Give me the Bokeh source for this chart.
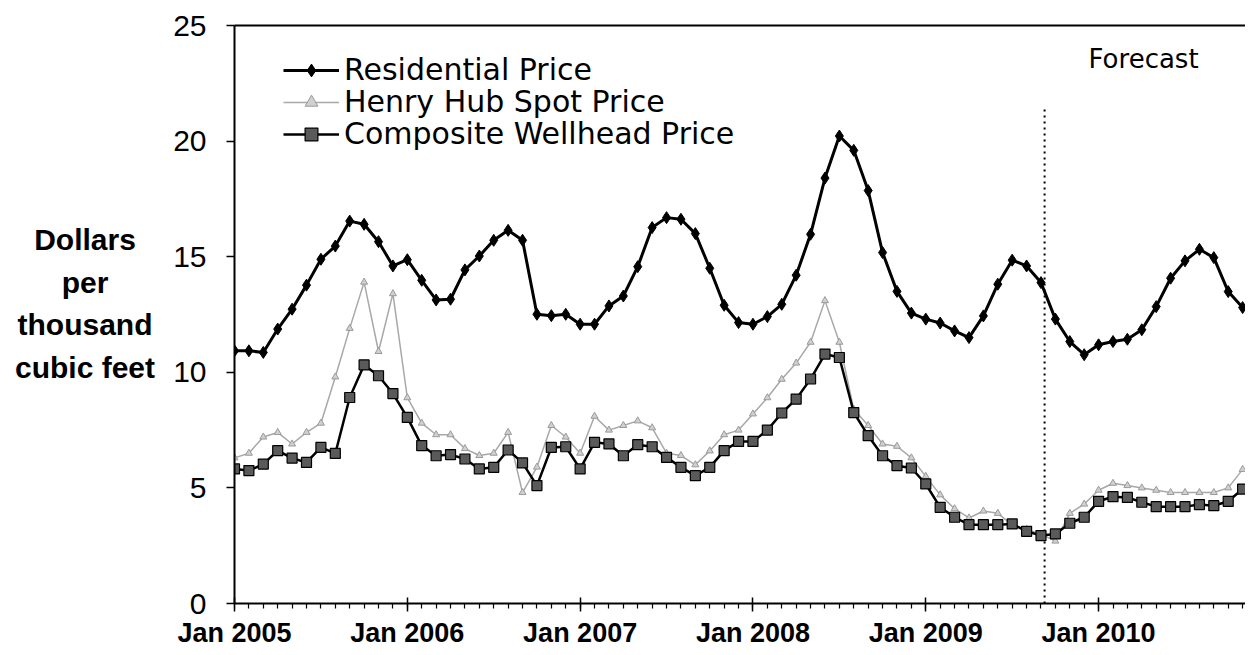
from bokeh.plotting import figure
from bokeh.models import (ColumnDataSource, Legend, LegendItem, FixedTicker,
                          LinearAxis, Label, Range1d, Div)
from bokeh.layouts import row
from bokeh.embed import file_html
from bokeh.resources import INLINE

# ---- data (month index 0 = Jan 2005) ----
months = list(range(71))
year_ticks = [0, 12, 24, 36, 48, 60]
year_labels = ["Jan 2005", "Jan 2006", "Jan 2007", "Jan 2008", "Jan 2009", "Jan 2010"]

residential = [10.93, 10.93, 10.86, 11.87, 12.73, 13.77, 14.89, 15.46, 16.54, 16.40, 15.65, 14.60,
               14.87, 13.98, 13.13, 13.16, 14.43, 15.03, 15.71, 16.14, 15.71, 12.51, 12.45, 12.51,
               12.08, 12.08, 12.87, 13.30, 14.57, 16.26, 16.69, 16.62, 16.00, 14.50, 12.90, 12.15,
               12.08, 12.41, 12.94, 14.20, 15.97, 18.40, 20.22, 19.60, 17.86, 15.18, 13.50, 12.56,
               12.30, 12.13, 11.79, 11.50, 12.44, 13.81, 14.85, 14.60, 13.88, 12.30, 11.33, 10.76,
               11.19, 11.33, 11.43, 11.84, 12.84, 14.07, 14.82, 15.32, 14.96, 13.49, 12.80]

henry_hub = [6.3, 6.5, 7.2, 7.4, 6.9, 7.4, 7.8, 9.8, 11.9, 13.9, 10.9, 13.4,
             8.9, 7.8, 7.3, 7.3, 6.7, 6.4, 6.5, 7.4, 4.8, 5.9, 7.7, 7.2,
             6.5, 8.1, 7.5, 7.7, 7.9, 7.6, 6.5, 6.4, 6.0, 6.6, 7.3, 7.5,
             8.2, 8.9, 9.7, 10.4, 11.3, 13.1, 11.3, 8.4, 7.7, 6.9, 6.8, 6.3,
             5.5, 4.7, 4.1, 3.7, 4.0, 3.9, 3.4, 3.2, 3.0, 2.7, 3.9, 4.3,
             4.9, 5.2, 5.1, 5.0, 4.9, 4.8, 4.8, 4.8, 4.8, 5.0, 5.8]

wellhead = [5.82, 5.75, 6.03, 6.61, 6.29, 6.10, 6.75, 6.49, 8.91, 10.32, 9.85, 9.08,
            8.05, 6.83, 6.39, 6.44, 6.25, 5.82, 5.89, 6.64, 6.08, 5.10, 6.75, 6.78,
            5.82, 6.97, 6.90, 6.39, 6.87, 6.78, 6.32, 5.89, 5.53, 5.89, 6.61, 7.01,
            7.01, 7.50, 8.24, 8.84, 9.71, 10.79, 10.64, 8.26, 7.26, 6.39, 5.96, 5.86,
            5.17, 4.16, 3.73, 3.41, 3.41, 3.41, 3.44, 3.12, 2.94, 3.01, 3.47, 3.73,
            4.42, 4.62, 4.59, 4.38, 4.19, 4.19, 4.19, 4.28, 4.23, 4.42, 4.95]

series_names = ["Residential Price", "Henry Hub Spot Price", "Composite Wellhead Price"]
ylabel_lines = ["Dollars", "per", "thousand", "cubic feet"]

forecast_start = 56.25
forecast_line_top = 21.5

src = ColumnDataSource(dict(m=months, res=residential, hh=henry_hub, wh=wellhead))

p = figure(width=1075, height=650, output_backend="svg", toolbar_location=None,
           x_range=Range1d(0, 70.2), y_range=Range1d(0, 25),
           min_border_left=63, min_border_right=0, min_border_top=25, min_border_bottom=47)
p.xgrid.visible = False
p.ygrid.visible = False
p.outline_line_color = None
p.background_fill_color = "white"
p.border_fill_color = "white"

# forecast divider
p.segment(x0=[forecast_start], y0=[0], x1=[forecast_start], y1=[forecast_line_top],
          line_color="black", line_width=2, line_dash="2 4")

# Henry Hub
hh_line = p.line("m", "hh", source=src, line_color="#a8a8a8", line_width=1.5)
hh_pts = p.scatter("m", "hh", source=src, marker="triangle", size=7,
                   fill_color="#d0d0d0", line_color="#9a9a9a", line_width=1)

# Composite wellhead
wh_line = p.line("m", "wh", source=src, line_color="black", line_width=2.5)
wh_pts = p.scatter("m", "wh", source=src, marker="square", size=10,
                   fill_color="#5a5a5a", line_color="black", line_width=1.2)

# Residential
res_line = p.line("m", "res", source=src, line_color="black", line_width=3)
res_pts = p.scatter("m", "res", source=src, marker="diamond", size=12,
                    fill_color="black", line_color="black")

# axes
yax = p.yaxis[0]
yax.ticker = FixedTicker(ticks=[0, 5, 10, 15, 20, 25])
yax.major_tick_out = 8
yax.major_tick_in = 0
yax.minor_tick_out = 0
yax.minor_tick_in = 0
yax.axis_line_width = 2
yax.major_tick_line_width = 1.5
yax.major_label_text_font = "Liberation Sans"
yax.major_label_text_font_size = "30px"
yax.major_label_text_color = "black"
yax.major_label_standoff = 20

xax = p.xaxis[0]
xax.ticker = FixedTicker(ticks=year_ticks, minor_ticks=months)
xax.major_label_overrides = {t: lab for t, lab in zip(year_ticks, year_labels)}
xax.major_tick_in = 6
xax.major_tick_out = 8
xax.minor_tick_in = 0
xax.minor_tick_out = 5
xax.axis_line_width = 2
xax.major_tick_line_width = 1.5
xax.minor_tick_line_width = 1.2
xax.major_label_text_font = "Liberation Sans"
xax.major_label_text_font_style = "bold"
xax.major_label_text_font_size = "27px"
xax.major_label_text_color = "black"
xax.major_label_standoff = 6

top_ax = LinearAxis(ticker=FixedTicker(ticks=[]), major_label_text_font_size="0px",
                    major_tick_line_color=None, minor_tick_line_color=None,
                    axis_line_color="black", axis_line_width=2)
p.add_layout(top_ax, "above")

# legend: one single-entry legend per series so the row pitch can be matched
renderers = [[res_line, res_pts], [hh_line, hh_pts], [wh_line, wh_pts]]
for i, (name, rs) in enumerate(zip(series_names, renderers)):
    lg = Legend(items=[LegendItem(label=name, renderers=rs)],
                location=(49, 516 - 32 * i), orientation="vertical")
    lg.padding = 0
    lg.margin = 0
    lg.spacing = 0
    lg.label_height = 32
    lg.glyph_height = 32
    lg.glyph_width = 56
    lg.label_standoff = 5
    lg.border_line_color = None
    lg.background_fill_alpha = 0
    lg.label_text_font = "DejaVu Sans"
    lg.label_text_font_size = "30px"
    lg.label_text_color = "black"
    p.add_layout(lg)

# forecast label
p.add_layout(Label(x=forecast_start, y=25, x_offset=44, y_offset=-33, text="Forecast",
                   text_font="DejaVu Sans", text_font_size="26px", text_color="black",
                   text_baseline="middle", text_align="left"))

# y-axis title as centred lines to the left of the plot
ytitle = Div(
    text=('<div style="font-family:\'Liberation Sans\',Arial,sans-serif;font-weight:bold;'
          'font-size:30px;line-height:42.5px;text-align:center;color:black;'
          'padding-top:219px;margin:0;width:170px;">'
          + "<br>".join(ylabel_lines) + '</div>'),
    width=170, height=650, styles={"margin": "0", "padding": "0"})

layout = row(ytitle, p, spacing=0)

open("out.html", "w").write(file_html(layout, INLINE))
